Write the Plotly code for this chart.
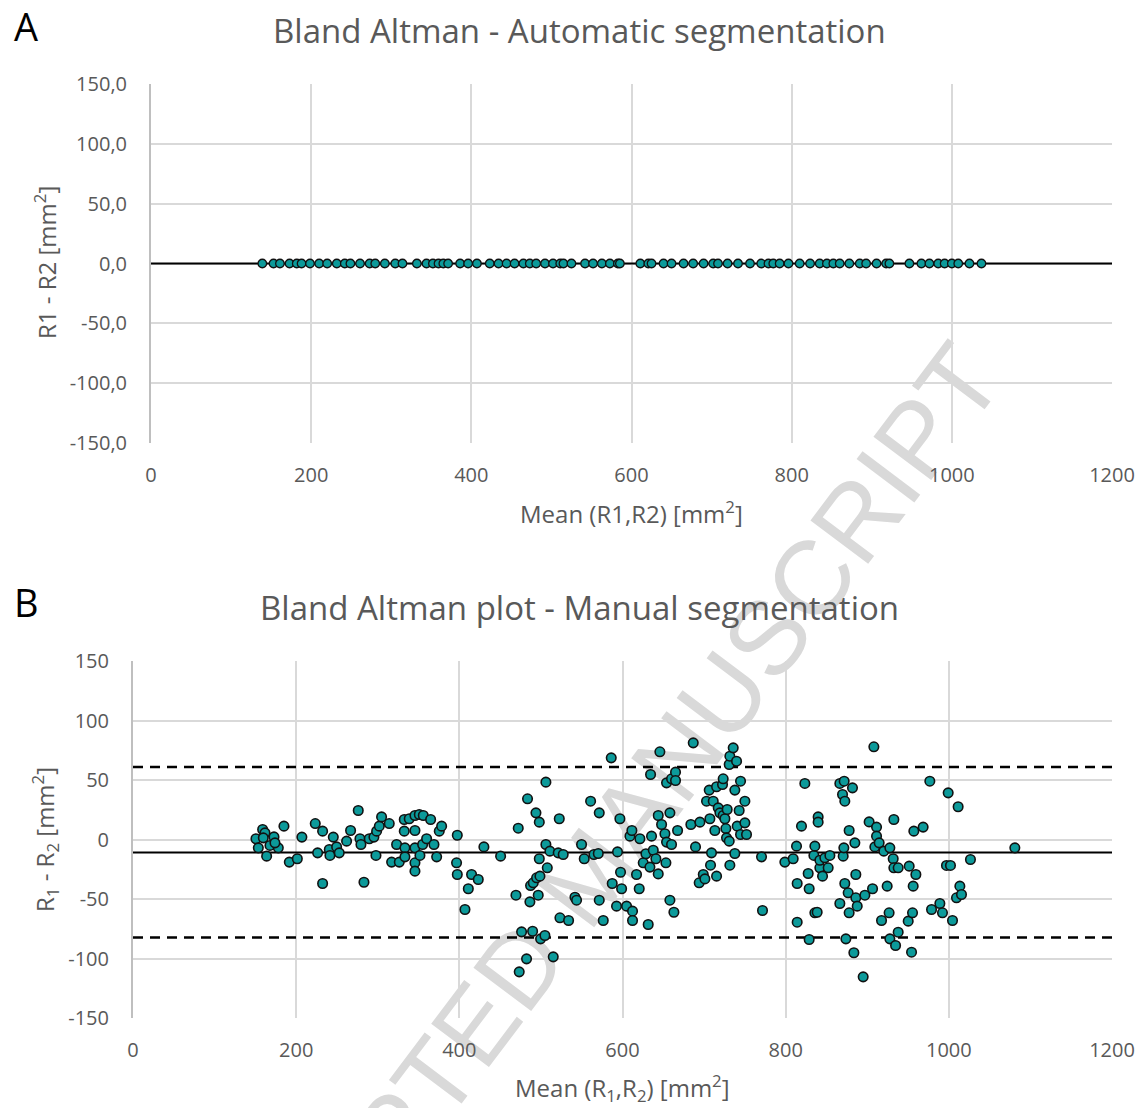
import plotly.graph_objects as go

# ---------------- data ----------------
a_mean = [139, 153, 161, 173, 182, 188, 198.5, 210, 220, 232, 242, 249, 261, 273, 280, 292, 305, 314,
          332, 344, 352, 359, 365, 371, 386, 396, 407, 423, 434, 444, 454, 465, 473, 481, 492, 502,
          511, 515, 525, 542, 552, 563, 573, 583, 585.5, 611, 621, 625, 640, 650, 665, 677, 690, 702,
          708, 720, 733, 748, 762, 771, 777, 785, 796, 810, 823, 835, 844, 852, 860, 872, 885, 893,
          906, 918, 922, 947, 962, 972, 983, 991, 1000, 1008, 1022, 1037]
a_diff = [0.0, 0.0, 0.0, 0.0, 0.0, 0.0, 0.0, 0.0, 0.0, 0.0, 0.0, 0.0, 0.0, 0.0, 0.0, 0.0, 0.0, 0.0,
          0.0, 0.0, 0.0, 0.0, 0.0, 0.0, 0.0, 0.0, 0.0, 0.0, 0.0, 0.0, 0.0, 0.0, 0.0, 0.0, 0.0, 0.0,
          0.0, 0.0, 0.0, 0.0, 0.0, 0.0, 0.0, 0.0, 0.0, 0.0, 0.0, 0.0, 0.0, 0.0, 0.0, 0.0, 0.0, 0.0,
          0.0, 0.0, 0.0, 0.0, 0.0, 0.0, 0.0, 0.0, 0.0, 0.0, 0.0, 0.0, 0.0, 0.0, 0.0, 0.0, 0.0, 0.0,
          0.0, 0.0, 0.0, 0.0, 0.0, 0.0, 0.0, 0.0, 0.0, 0.0, 0.0, 0.0]
a_bias_x = [0, 1200]
a_bias_y = [0.0, 0.0]

b_mean = [150.7, 158.9, 161.8, 159.7, 153.6, 163.8, 167.9, 172.8, 178.1, 174, 185, 191.6, 201.4, 207,
          223.4, 226.3, 232.4, 232.4, 240.6, 241.4, 245.5, 249.6, 252.8, 261.8, 266.7, 276.1, 278.2,
          279.4, 283.1, 289.6, 295.3, 298.6, 297.8, 301.9, 304.7, 314.1, 317, 323.1, 326.4, 332.5,
          332.5, 333.3, 333.3, 338.6, 345.6, 345.6, 345.6, 345.6, 345.6, 350.9, 355.8, 351.7, 355,
          359.9, 364.8, 368.9, 372.2, 375.4, 378.3, 397.5, 396.6, 397.5, 411, 406.9, 415, 423.2,
          430.1, 450.6, 469.4, 472.2, 473.4, 476.3, 482.4, 483.6, 487.3, 486.5, 489.8, 490.6, 493.9,
          494.7, 496.7, 498, 498, 498.8, 499.6, 504.9, 506.1, 506.1, 507.8, 511, 515.1, 521.2, 522.5,
          523.3, 527.3, 533.9, 541.7, 543.7, 549.8, 553.1, 560.9, 565, 570.3, 571.5, 571.5, 576.4,
          586.2, 587.4, 592.7, 593.9, 596.8, 597.6, 598.9, 605, 609.1, 611.5, 612.3, 612.3, 617.2,
          620.5, 621.3, 625.4, 628.7, 631.5, 633.6, 635.6, 637.7, 640.9, 643.8, 643.8, 645.8, 647.9,
          652, 653.2, 654, 658.1, 658.1, 660.1, 663, 667.5, 634.4, 654, 660.1, 665, 665, 683.8,
          686.7, 689.5, 694.9, 694, 699, 701, 703, 707.1, 707.9, 709.1, 706.3, 711.2, 713.2, 715.3,
          715.3, 717.3, 719.4, 722.6, 723.4, 723.4, 725.5, 726.7, 727.5, 728.3, 730.8, 731.6, 731.6,
          730.8, 735.7, 737.7, 737.7, 739.8, 740.6, 743, 744.7, 744.7, 750, 750, 752, 770.4, 771.6,
          799, 809.2, 813.3, 814.1, 814.1, 819.4, 823.5, 827.6, 828.8, 828.8, 834.6, 835.8, 835.8,
          838.6, 839.8, 839.8, 841.9, 841.9, 845.2, 848, 852.1, 854.2, 866.4, 866.4, 869.7, 870.5,
          871.3, 871.7, 872.5, 872.5, 873.8, 876.6, 877.8, 877.8, 881.9, 883.6, 884.8, 886, 886,
          887.7, 895, 897.1, 902.3, 906.5, 908.1, 909.3, 911.4, 911.4, 914.6, 917.5, 920.3, 924.4,
          926.8, 927.7, 927.7, 931.8, 932.6, 932.6, 934.7, 937.9, 937.9, 950.2, 951.4, 954.3, 955.5,
          956.3, 957.1, 959.6, 968.5, 976.7, 978.8, 989, 992.2, 997.1, 999.2, 1002, 1004.5, 1009.4,
          1011.4, 1013.5, 1015.5, 1026.5, 1080.9]
b_diff = [0.6, 8.4, 5.6, 1.4, -7, -14, -5, 2.2, -7, -2.8, 11.2, -19, -16.2, 2,
          13.4, -11.2, 7, -37, -8.4, -13.4, 2, -6.2, -11.2, -1.4, 7.6, 24.4, 0.6,
          -4.2, -35.9, 0.6, 2, 7, -13.4, 11.2, 19, 13.4, -19, -4.2, -19, 16.8,
          7, -7, -14.6, 17.4, 20.2, 7.6, -7, -19.6, -26.6, 21, 20.2, -13.4, -4.2,
          0.6, 16.8, -4.2, -14.6, 7, 11.2, 3.6, -19.6, -29.4, -41.4, -58.8, -29.4, -33.6,
          -6.2, -14, -46.8, 9.5, -111.2, -77.6, -100.3, 34.2, -38.7, -52.4, -77.1, -36.4, 22.4,
          -32.2, -46.8, 14.6, -16.2, -30.8, -83.5, -80.7, 48.2, -4.2, -23.8, -9.8, -98.6, -11.2, 17.4,
          -65.8, -12.6, -68.1, -48.5, -51, -4.2, -16.2, 32.2, -12.6, -11.8, 22.4, -51, -68.1,
          68.6, -37, -56, -10.4, 17.4, -27.5, -41.4, -56, 2.8, 7.6, -60.2, -68.1, -29.4,
          -41.4, 0.6, -19.6, -12, -71.4, -23.2, 2.8, -9, -16.2, -28.9, 20.2, 73.7, 12.6,
          4.8, -19.6, -2.2, 22.4, -51, -4.2, -61.1, 7.6, 54.6, 47.6, 51, 56.6, 49.6, 12.6,
          81.2, -6.2, 14.6, -36.4, -29.4, -33.1, 32.2, 17.4, -21.6, -11.2, 41.5, 32.2, 7.6, -30.8,
          44.3, 26.6, 22.4, 46.2, 51, 20.2, 17.4, 9.2, 1.4, 25.2, 63, -21.6, 70,
          -1.4, 77, 41.5, -11.8, 65.8, 11.2, 24.4, 49, 4.2, 32.2, 14, 4.2, -14.6, -59.7,
          -19, -16.2, -5.6, -37, -69.5, 11.2, 47.1, -28.6, -41.4, -84, -13.4, -5.6, -61.6,
          -61.1, 19, 14.6, -23.8, -17.4, -30.8, -15.4, -23.8, -13.4, 47.1, -53.8, 37.8, -14,
          -7, 49, 32.2, -37, -83.5, -44.8, 7.6, -61.6, 43.4, -95.2, -2.8, -29.4, -49,
          -56, -115.4, -46.8, 14.8, -41.4, 77.9, -6.2, 10.4, 2.8, -2.8, -68.1, -9.8, -39.2,
          -61.6, -7, -83.5, -16.2, 16.8, -23.8, -89.1, -77.9, -23.8, -68.6, -22.4, -94.7, -61.6,
          -39.2, 7, -29.4, 10.4, 49, -58.8, -53.8, -61.6, -21.8, 39.2, -21.8, -68.1, -49,
          27.5, -39.2, -46.2, -16.8, -7]
b_line_x = [0, 1200]
b_bias = [-10.9, -10.9]
b_upper = [61.0, 61.0]
b_lower = [-82.4, -82.4]

x_ticks = [0, 200, 400, 600, 800, 1000, 1200]
x_ticktext = ["0", "200", "400", "600", "800", "1000", "1200"]
y_ticks = [-150, -100, -50, 0, 50, 100, 150]
a_y_ticktext = ["-150,0", "-100,0", "-50,0", "0,0", "50,0", "100,0", "150,0"]
b_y_ticktext = ["-150", "-100", "-50", "0", "50", "100", "150"]

title_a = "Bland Altman - Automatic segmentation"
title_b = "Bland Altman plot - Manual segmentation"
xtitle_a = "Mean (R1,R2) [mm<sup>2</sup>]"
ytitle_a = "R1 - R2 [mm<sup>2</sup>]"
xtitle_b = "Mean (R<sub>1</sub>,R<sub>2</sub>) [mm<sup>2</sup>]"
ytitle_b = "R<sub>1</sub> - R<sub>2</sub> [mm<sup>2</sup>]"
watermark = "ACCEPTED MANUSCRIPT"

# ---------------- layout helpers ----------------
W, H = 1144, 1108
FONT = "Open Sans"
GRAY = "#595959"
GRID = "#d9d9d9"
TEAL = "#0C9A9A"


def px(x):
    return x / W


def py(y):
    return 1 - y / H


fig = go.Figure()

# Panel A
fig.add_trace(go.Scatter(x=a_bias_x, y=a_bias_y, mode="lines", line=dict(color="black", width=2),
                         xaxis="x", yaxis="y", showlegend=False, hoverinfo="skip"))
fig.add_trace(go.Scatter(x=a_mean, y=a_diff, mode="markers",
                         marker=dict(size=8.5, color=TEAL, line=dict(color="#111111", width=1.3)),
                         xaxis="x", yaxis="y", showlegend=False))

# Panel B
fig.add_trace(go.Scatter(x=b_line_x, y=b_upper, mode="lines",
                         line=dict(color="black", width=2.5, dash="10px,7px"),
                         xaxis="x2", yaxis="y2", showlegend=False, hoverinfo="skip"))
fig.add_trace(go.Scatter(x=b_line_x, y=b_lower, mode="lines",
                         line=dict(color="black", width=2.5, dash="10px,7px"),
                         xaxis="x2", yaxis="y2", showlegend=False, hoverinfo="skip"))
fig.add_trace(go.Scatter(x=b_line_x, y=b_bias, mode="lines", line=dict(color="black", width=2),
                         xaxis="x2", yaxis="y2", showlegend=False, hoverinfo="skip"))
fig.add_trace(go.Scatter(x=b_mean, y=b_diff, mode="markers",
                         marker=dict(size=9.5, color=TEAL, line=dict(color="#111111", width=1.6)),
                         xaxis="x2", yaxis="y2", showlegend=False))

tickfont = dict(family=FONT, size=20, color=GRAY)
xcommon = dict(range=[0, 1200], tickvals=x_ticks, ticktext=x_ticktext, showgrid=True, gridcolor=GRID,
               gridwidth=2, zeroline=False, showline=False, ticks="", tickfont=tickfont,
               ticklabelstandoff=18, fixedrange=True, automargin=False)
ycommon = dict(range=[-150, 150], tickvals=y_ticks, showgrid=True, gridcolor=GRID, gridwidth=2,
               zeroline=False, showline=True, linecolor="#bfbfbf", linewidth=2, ticks="",
               tickfont=tickfont, ticklabelstandoff=18, fixedrange=True, automargin=False)

fig.update_layout(
    width=W, height=H, autosize=False,
    margin=dict(l=0, r=0, t=0, b=0, pad=0, autoexpand=False),
    paper_bgcolor="white", plot_bgcolor="white",
    font=dict(family=FONT, color=GRAY),
    xaxis=dict(domain=[px(151), px(1112)], anchor="y", **xcommon),
    yaxis=dict(domain=[py(443), py(84)], anchor="x", ticktext=a_y_ticktext, **ycommon),
    xaxis2=dict(domain=[px(133), px(1112)], anchor="y2", **xcommon),
    yaxis2=dict(domain=[py(1018), py(661)], anchor="x2", ticktext=b_y_ticktext, **ycommon),
)

ann = [
    dict(text="A", x=px(26), y=py(26), font=dict(family=FONT, size=38, color="black")),
    dict(text="B", x=px(26), y=py(602), font=dict(family=FONT, size=38, color="black")),
    dict(text=title_a, x=px(579), y=py(31), font=dict(family=FONT, size=33, color=GRAY)),
    dict(text=title_b, x=px(579), y=py(607), font=dict(family=FONT, size=33, color=GRAY)),
    dict(text=xtitle_a, x=px(631), y=py(513), font=dict(family=FONT, size=24, color=GRAY)),
    dict(text=ytitle_a, x=px(45), y=py(263), textangle=-90, font=dict(family=FONT, size=24, color=GRAY)),
    dict(text=xtitle_b, x=px(622), y=py(1088), font=dict(family=FONT, size=24, color=GRAY)),
    dict(text=ytitle_b, x=px(45), y=py(840), textangle=-90, font=dict(family=FONT, size=24, color=GRAY)),
]
for a in ann:
    a.update(xref="paper", yref="paper", showarrow=False, xanchor="center", yanchor="middle")
fig.update_layout(annotations=ann)

# diagonal watermark, drawn beneath the data
cx, cy, L = 580, 869, 300
fig.add_shape(type="line", xref="paper", yref="paper", layer="below",
              x0=px(cx - L * 0.6), y0=py(cy + L * 0.8), x1=px(cx + L * 0.6), y1=py(cy - L * 0.8),
              line=dict(width=0, color="rgba(0,0,0,0)"),
              label=dict(text=watermark, textangle=-53, textposition="middle", yanchor="middle",
                         padding=0, font=dict(family="Liberation Sans", size=105, color="#d9d9d9")))

fig.write_html("out.html", config={"displayModeBar": False},
               post_script="document.body.style.margin='0';")
